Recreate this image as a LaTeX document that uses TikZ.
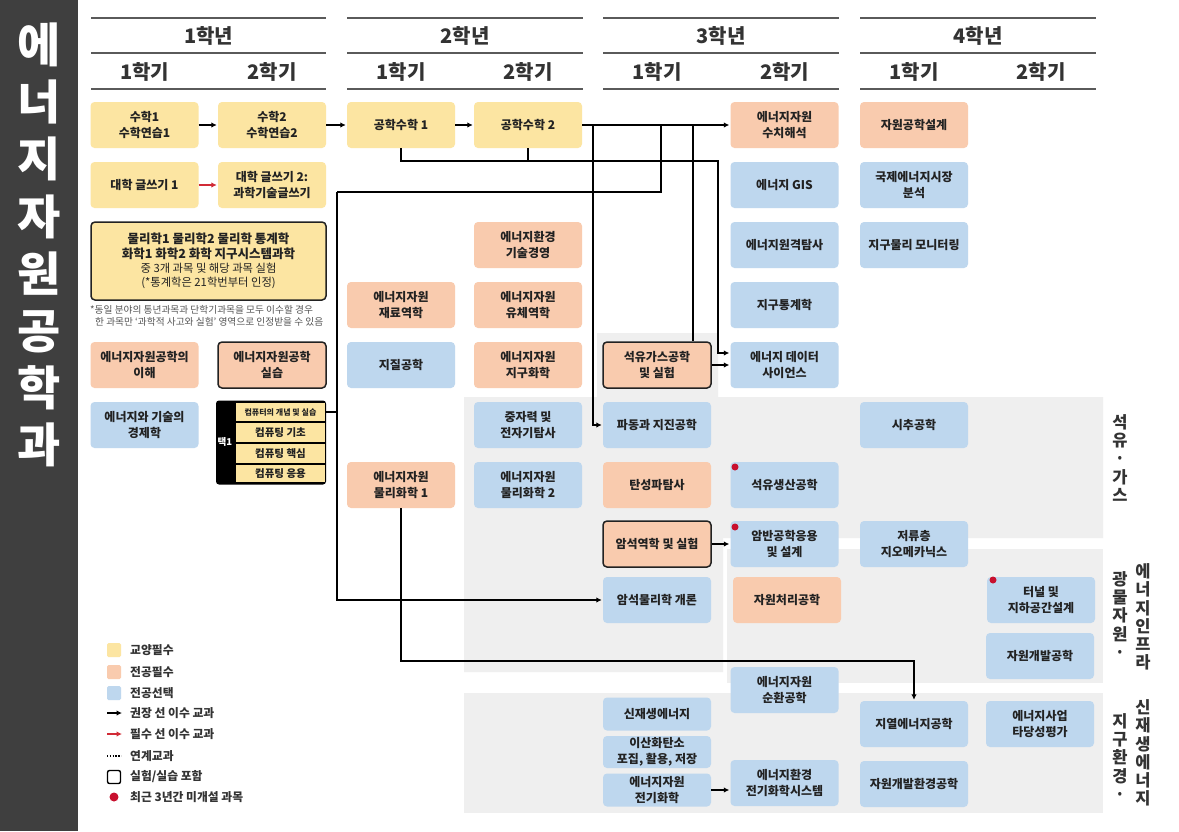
\documentclass[tikz,border=0pt]{standalone}
\usepackage{fontspec}
\setmainfont{Noto Sans CJK KR}
\usetikzlibrary{arrows.meta,calc}
\definecolor{cyel}{HTML}{FCE5A2}
\definecolor{corg}{HTML}{F9CBAE}
\definecolor{cblu}{HTML}{BED7EE}
\definecolor{cband}{HTML}{EFEFEF}
\definecolor{cbar}{HTML}{3F3F3F}
\definecolor{ctxt}{HTML}{222222}
\definecolor{chead}{HTML}{333333}
\definecolor{cred}{HTML}{D12B36}
\definecolor{cdot}{HTML}{C8102E}
\definecolor{cline}{HTML}{5A5A5A}
\definecolor{cnote}{HTML}{555555}
\newcommand{\fsz}[2]{\fontsize{#1}{#2}\selectfont}
\tikzset{
  course/.style={rounded corners=4pt, minimum width=108pt, minimum height=46pt, align=center, inner sep=0pt, text=ctxt, font=\bfseries\fsz{12}{15.5}},
  yel/.style={course, fill=cyel},
  org/.style={course, fill=corg},
  blu/.style={course, fill=cblu},
  lab/.style={draw=ctxt, line width=1.5pt},
  arr/.style={draw=black, line width=1.4pt, -{Latex[length=5.5pt,width=5.5pt]}, shorten >=1pt},
  conn/.style={draw=black, line width=1.4pt},
  rarr/.style={arr, draw=cred, color=cred},
  head/.style={font=\bfseries\fsz{20}{22}, text=chead},
  hline/.style={draw=cline, line width=1.2pt},
  side/.style={font=\bfseries\fsz{16.5}{18.3}, text=chead, align=center, inner sep=0pt},
  leg/.style={anchor=west, font=\bfseries\fsz{11.8}{13}, text=chead, inner sep=0pt},
  rdot/.style={circle, fill=cdot, inner sep=0pt, minimum size=7pt},
  sub/.style={fill=cyel, minimum width=89pt, inner sep=0pt, text=ctxt, font=\bfseries\fsz{10.5}{12}},
}
\begin{document}
\begin{tikzpicture}[x=1pt,y=-1pt]
\useasboundingbox (0,0) rectangle (1179,831);
\fill[white] (0,0) rectangle (1179,831);
% bands
\fill[cband] (464,397) -- (597,397) -- (597,333) -- (718,333) -- (718,397) -- (1103,397) -- (1103,538) -- (723,538) -- (723,672) -- (464,672) -- cycle;
\fill[cband] (727,549) rectangle (1103,683);
\fill[cband] (464,693) rectangle (1103,813);
% title bar
\fill[cbar] (0,0) rectangle (78,831);
\node[font=\bfseries\fsz{47}{57.2}, text=white, align=center, inner sep=0pt] (title) at (39,245) {에\\너\\지\\자\\원\\공\\학\\과};
% header
\foreach \a/\b in {91/326,347/583,603/839,860/1096}{
  \draw[hline] (\a,18) -- (\b,18);
  \draw[hline] (\a,53) -- (\b,53);
  \draw[hline] (\a,89) -- (\b,89);
}
\node[head] (y1) at (208.5,36) {1학년};
\node[head] (y2) at (465,36) {2학년};
\node[head] (y3) at (721,36) {3학년};
\node[head] (y4) at (978,36) {4학년};
\node[head] (s11) at (144.5,72) {1학기};
\node[head] (s12) at (272,72) {2학기};
\node[head] (s21) at (401,72) {1학기};
\node[head] (s22) at (528,72) {2학기};
\node[head] (s31) at (657,72) {1학기};
\node[head] (s32) at (784.5,72) {2학기};
\node[head] (s41) at (914,72) {1학기};
\node[head] (s42) at (1041,72) {2학기};
% year 1
\node[yel] (m1) at (144.5,125) {수학1\\수학연습1};
\node[yel] (m2) at (272,125) {수학2\\수학연습2};
\node[yel] (w1) at (144.5,185) {대학 글쓰기 1};
\node[yel] (w2) at (272,185) {대학 글쓰기 2:\\과학기술글쓰기};
\node[yel, lab, minimum width=235pt, minimum height=78pt, font=\bfseries\fsz{12.5}{14.2}] (sci) at (208.5,261) {물리학1 물리학2 물리학 통계학\\화학1 화학2 화학 지구시스템과학\\{\mdseries\fsz{11.3}{14.2}중 3개 과목 및 해당 과목 실험}\\{\mdseries\fsz{11.3}{14.2}(*통계학은 21학번부터 인정)}};
\node[anchor=north west, font=\fsz{9.7}{12.5}, text=cnote, align=left, inner sep=0pt] (note) at (90,305) {*동일 분야의 통년과목과 단학기과목을 모두 이수할 경우\\\hspace{5pt}한 과목만 ‘과학적 사고와 실험’ 영역으로 인정받을 수 있음};
\node[org] (intro) at (144.5,365) {에너지자원공학의\\이해};
\node[org, lab] (prac) at (272,365) {에너지자원공학\\실습};
\node[blu] (econ) at (144.5,425) {에너지와 기술의\\경제학};
\node[fill=black, rounded corners=3pt, minimum width=110pt, minimum height=84pt, inner sep=0pt] (grp) at (271,442.5) {};
\node[text=white, font=\bfseries\fsz{9.5}{11}, inner sep=0pt] (tk) at (225,442) {택1};
\node[sub, minimum height=18pt, font=\bfseries\fsz{8}{9}] (c1) at (280.5,412) {컴퓨터의 개념 및 실습};
\node[sub, minimum height=19pt] (c2) at (280.5,432.5) {컴퓨팅 기초};
\node[sub, minimum height=19pt] (c3) at (280.5,453.5) {컴퓨팅 핵심};
\node[sub, minimum height=17.5pt] (c4) at (280.5,473.7) {컴퓨팅 응용};
% year 2
\node[yel] (em1) at (401,125) {공학수학 1};
\node[org] (mat) at (401,305) {에너지자원\\재료역학};
\node[blu] (geo) at (401,365) {지질공학};
\node[org] (pc1) at (401,485) {에너지자원\\물리화학 1};
\node[yel] (em2) at (528,125) {공학수학 2};
\node[org] (tm) at (528,245) {에너지환경\\기술경영};
\node[org] (fl) at (528,305) {에너지자원\\유체역학};
\node[org] (gc) at (528,365) {에너지자원\\지구화학};
\node[blu] (gm) at (528,425) {중자력 및\\전자기탐사};
\node[blu] (pc2) at (528,485) {에너지자원\\물리화학 2};
% year 3
\node[org, lab] (pg) at (657,365) {석유가스공학\\및 실험};
\node[blu] (wave) at (657,425) {파동과 지진공학};
\node[org] (seis) at (657,485) {탄성파탐사};
\node[org, lab] (rm) at (657,544) {암석역학 및 실험};
\node[blu] (rp) at (657,600) {암석물리학 개론};
\node[blu, minimum height=33pt] (ren) at (657,714) {신재생에너지};
\node[blu, minimum height=32pt] (ccs) at (657,752) {이산화탄소\\포집, 활용, 저장};
\node[blu, minimum height=33pt] (ec) at (657,790) {에너지자원\\전기화학};
\node[org] (num) at (784.5,125) {에너지자원\\수치해석};
\node[blu] (gis) at (784.5,185) {에너지 GIS};
\node[blu] (rs) at (784.5,245) {에너지원격탐사};
\node[blu] (gst) at (784.5,305) {지구통계학};
\node[blu] (ds) at (784.5,365) {에너지 데이터\\사이언스};
\node[blu] (prod) at (784.5,485) {석유생산공학};
\node[blu] (rme) at (784.5,544) {암반공학응용\\및 설계};
\node[org] (proc) at (787,600) {자원처리공학};
\node[blu] (circ) at (784.5,690) {에너지자원\\순환공학};
\node[blu] (ecs) at (784.5,783) {에너지환경\\전기화학시스템};
% year 4
\node[org] (des) at (914,125) {자원공학설계};
\node[blu] (mkt) at (914,185) {국제에너지시장\\분석};
\node[blu] (gpm) at (914,245) {지구물리 모니터링};
\node[blu] (drill) at (914,425) {시추공학};
\node[blu] (res) at (914,544) {저류층\\지오메카닉스};
\node[blu] (geoth) at (914,724) {지열에너지공학};
\node[blu] (envd) at (914,784) {자원개발환경공학};
\node[blu] (tun) at (1041,600) {터널 및\\지하공간설계};
\node[blu] (dev) at (1040,656) {자원개발공학};
\node[blu] (feas) at (1040,724) {에너지사업\\타당성평가};
% red dots
\node[rdot] (d1) at (735,467) {};
\node[rdot] (d2) at (735,527) {};
\node[rdot] (d3) at (993,580) {};
% connectors
\draw[arr] (m1) -- (m2);
\draw[arr] (m2) -- (em1);
\draw[rarr] (w1) -- (w2);
\draw[arr] (em1) -- (em2);
\draw[arr] (em2) -- (num);
\coordinate (j1) at (593,125);
\draw[arr] (j1) |- (wave.west);
\coordinate (j2) at (661,125);
\coordinate (j3) at (337,192);
\draw[conn] (j2) |- (j3);
\draw[arr] (j3) |- (rp.west);
\draw[conn] (c1.east) -- (c1.east -| j3);
\coordinate (j4) at (693,125);
\draw[conn] (j4) -- (j4 |- pg.north);
\coordinate (j5) at (718,161);
\draw[arr] (em1.south) |- (j5) |- ($(ds.west)+(0,-12)$);
\draw[conn] (em2.south) -- (em2.south |- j5);
\draw[arr] (pg.east) -- (pg.east -| ds.west);
\draw[arr] (rm) -- (rme);
\coordinate (j6) at (914,661);
\draw[arr] (pc1.south) |- (j6) -- (geoth.north);
\draw[arr] (ec.east) -- (ec.east -| ecs.west);
% side labels
\node[side] (sa) at (1120,458) {석\\유\\·\\가\\스};
\node[side] (sb1) at (1120,615) {광\\물\\자\\원\\·};
\node[side] (sb2) at (1143,617) {에\\너\\지\\인\\프\\라};
\node[side] (sc1) at (1120,757) {지\\구\\환\\경\\·};
\node[side] (sc2) at (1143,753) {신\\재\\생\\에\\너\\지};
% legend
\node[fill=cyel, minimum size=14pt, inner sep=0pt, rounded corners=1.5pt] (lg1) at (114,650) {};
\node[leg] (lt1) at (130,650) {교양필수};
\node[fill=corg, minimum size=14pt, inner sep=0pt, rounded corners=1.5pt] (lg2) at (114,672) {};
\node[leg] (lt2) at (130,672) {전공필수};
\node[fill=cblu, minimum size=14pt, inner sep=0pt, rounded corners=1.5pt] (lg3) at (114,693) {};
\node[leg] (lt3) at (130,693) {전공선택};
\coordinate (la4) at (107,713); \coordinate (lb4) at (122,713);
\draw[arr, shorten >=0pt] (la4) -- (lb4);
\node[leg] (lt4) at (130,713) {권장 선 이수 교과};
\coordinate (la5) at (107,734); \coordinate (lb5) at (122,734);
\draw[rarr, shorten >=0pt] (la5) -- (lb5);
\node[leg] (lt5) at (130,734) {필수 선 이수 교과};
\coordinate (la6) at (107,756); \coordinate (lb6) at (121,756);
\draw[line width=2pt, dash pattern=on 1.4pt off 1.4pt] (la6) -- (lb6);
\node[leg] (lt6) at (130,756) {연계교과};
\node[draw=black, line width=1.4pt, minimum size=13pt, inner sep=0pt, rounded corners=2pt] (lg7) at (114,777) {};
\node[leg] (lt7) at (130,777) {실험/실습 포함};
\node[rdot, minimum size=9pt] (lg8) at (114,797) {};
\node[leg] (lt8) at (130,797) {최근 3년간 미개설 과목};
\end{tikzpicture}
\end{document}
